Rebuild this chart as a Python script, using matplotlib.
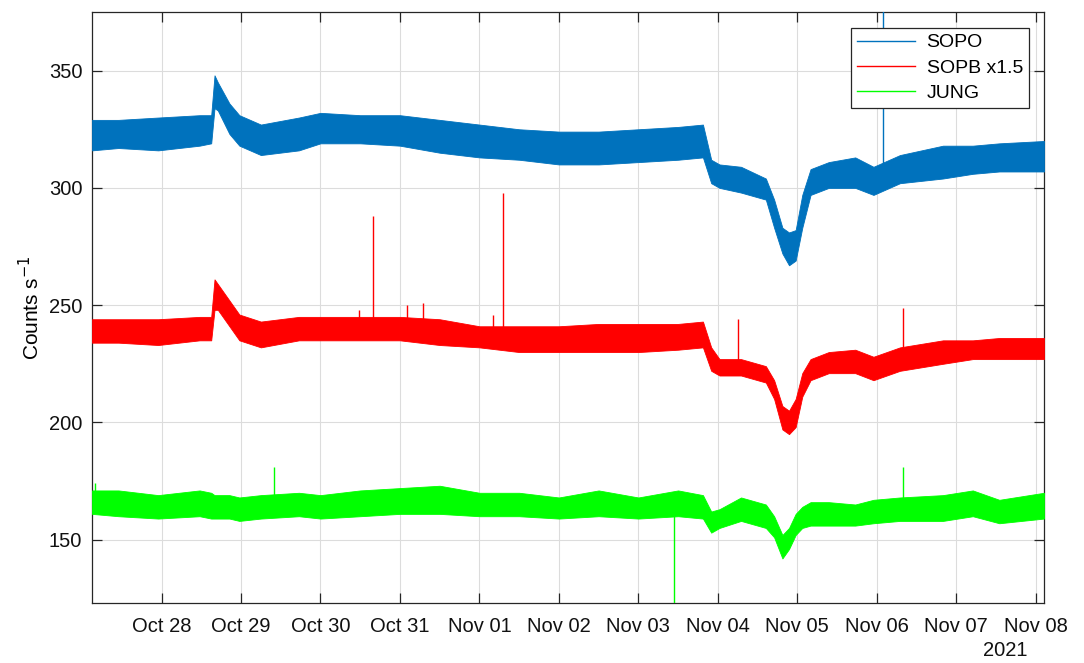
import numpy as np
import pandas as pd
import matplotlib
matplotlib.use("Agg")
import matplotlib.pyplot as plt
import matplotlib.dates as mdates
from matplotlib.lines import Line2D

plt.rcParams['font.family'] = ['Liberation Sans', 'DejaVu Sans']

times = pd.to_datetime([
    "2021-10-27 03:00", "2021-10-27 11:00", "2021-10-27 23:00", "2021-10-28 11:30",
    "2021-10-28 15:00", "2021-10-28 16:00", "2021-10-28 17:00", "2021-10-28 20:30",
    "2021-10-28 23:30", "2021-10-29 06:00", "2021-10-29 17:30", "2021-10-30 00:00",
    "2021-10-30 12:00", "2021-10-31 00:00", "2021-10-31 12:00", "2021-11-01 00:00",
    "2021-11-01 12:00", "2021-11-02 00:00", "2021-11-02 12:00", "2021-11-03 00:00",
    "2021-11-03 12:00", "2021-11-03 19:30", "2021-11-03 22:00", "2021-11-04 00:30",
    "2021-11-04 07:00", "2021-11-04 14:30", "2021-11-04 17:00", "2021-11-04 19:30",
    "2021-11-04 21:30", "2021-11-04 23:30", "2021-11-05 01:30", "2021-11-05 04:00",
    "2021-11-05 09:30", "2021-11-05 17:30", "2021-11-05 23:00", "2021-11-06 07:00",
    "2021-11-06 20:00", "2021-11-07 05:00", "2021-11-07 13:00", "2021-11-08 02:30",
])

sopo_lo = [316, 317, 316, 318, 319, 334, 333, 323, 318, 314, 316, 319, 319, 318, 315, 313,
           312, 310, 310, 311, 312, 313, 302, 300, 298, 295, 283, 272, 267, 269, 283, 297,
           300, 300, 297, 302, 304, 306, 307, 307]
sopo_hi = [329, 329, 330, 331, 331, 348, 345, 336, 331, 327, 330, 332, 331, 331, 329, 327,
           325, 324, 324, 325, 326, 327, 312, 310, 309, 304, 295, 283, 281, 282, 297, 308,
           311, 313, 309, 314, 318, 318, 319, 320]

sopb_lo = [234, 234, 233, 235, 235, 248, 248, 241, 235, 232, 235, 235, 235, 235, 233, 232,
           230, 230, 230, 230, 231, 232, 222, 220, 220, 217, 210, 197, 195, 198, 211, 218,
           221, 221, 218, 222, 225, 227, 227, 227]
sopb_hi = [244, 244, 244, 245, 245, 261, 259, 252, 246, 243, 245, 245, 245, 245, 244, 241,
           241, 241, 242, 242, 242, 243, 232, 227, 227, 224, 218, 207, 205, 210, 221, 227,
           230, 231, 228, 232, 235, 235, 236, 236]

jung_lo = [161, 160, 159, 160, 159, 159, 159, 159, 158, 159, 160, 159, 160, 161, 161, 160,
           160, 159, 160, 159, 160, 159, 153, 155, 158, 155, 151, 142, 146, 152, 155, 156,
           156, 156, 157, 158, 158, 160, 157, 159]
jung_hi = [171, 171, 169, 171, 170, 169, 169, 169, 168, 169, 170, 169, 171, 172, 173, 170,
           170, 168, 171, 168, 171, 169, 162, 163, 168, 165, 160, 152, 155, 161, 164, 166,
           166, 165, 167, 168, 169, 171, 167, 170]

# isolated spikes: time, base, tip
sopo_spk_t = pd.to_datetime(["2021-11-06 02:00"])
sopo_spk_base = [306]
sopo_spk_top = [380]

sopb_spk_t = pd.to_datetime(["2021-10-30 11:30", "2021-10-30 15:50", "2021-10-31 02:00",
                             "2021-10-31 06:50", "2021-11-01 04:00", "2021-11-01 07:00",
                             "2021-11-04 06:00", "2021-11-06 08:00"])
sopb_spk_base = [240, 240, 240, 239, 237, 236, 224, 227]
sopb_spk_top = [248, 288, 250, 251, 246, 298, 244, 249]

jung_spk_t = pd.to_datetime(["2021-10-27 04:00", "2021-10-29 10:00", "2021-11-03 10:50",
                             "2021-11-06 08:00"])
jung_spk_base = [166, 164, 165, 163]
jung_spk_top = [174, 181, 100, 181]

series = [
    ("SOPO", "#0072BD", sopo_lo, sopo_hi, sopo_spk_t, sopo_spk_base, sopo_spk_top),
    ("SOPB x1.5", "#FF0000", sopb_lo, sopb_hi, sopb_spk_t, sopb_spk_base, sopb_spk_top),
    ("JUNG", "#00FF00", jung_lo, jung_hi, jung_spk_t, jung_spk_base, jung_spk_top),
]

fig = plt.figure(figsize=(10.84, 6.63), dpi=100)
ax = fig.add_axes([92 / 1084, 60 / 663, 952 / 1084, 591 / 663])

handles = []
for name, col, lo, hi, st, sb, stop in series:
    ax.fill_between(times, lo, hi, color=col, linewidth=0.6, zorder=3)
    ax.vlines(st, sb, stop, color=col, linewidth=1.0, zorder=3)
    handles.append(Line2D([], [], color=col, linewidth=1.0, label=name))

ax.set_xlim(pd.Timestamp("2021-10-27 03:00"), pd.Timestamp("2021-11-08 02:30"))
ax.set_ylim(123, 375)
ax.set_yticks([150, 200, 250, 300, 350])
ax.xaxis.set_major_locator(mdates.DayLocator())
ax.xaxis.set_major_formatter(mdates.DateFormatter("%b %d"))

ax.grid(True, color="#dcdcdc", linewidth=0.8)
ax.set_axisbelow(True)
for sp in ax.spines.values():
    sp.set_color("#262626")
    sp.set_linewidth(0.9)
ax.tick_params(direction="in", length=7, width=0.9, top=True, right=True,
               labelsize=14.5, colors="#262626", labelcolor="#111111")
ax.tick_params(axis="x", pad=10)
ax.tick_params(axis="y", pad=7)

ax.set_ylabel("Counts s$^{-1}$", fontsize=15, labelpad=4)
ax.text(0.959, -0.081, "2021", transform=ax.transAxes, fontsize=14.5,
        ha="center", va="center", color="#111111")

leg = ax.legend(handles=handles, loc="upper right", bbox_to_anchor=(0.984, 0.973),
                fontsize=14, fancybox=False, framealpha=1, edgecolor="#262626",
                handlelength=3.0, borderpad=0.3, labelspacing=0.4, handletextpad=0.6,
                borderaxespad=0)
leg.get_frame().set_linewidth(0.9)
leg.set_zorder(5)

fig.savefig("out.png", dpi=100)
